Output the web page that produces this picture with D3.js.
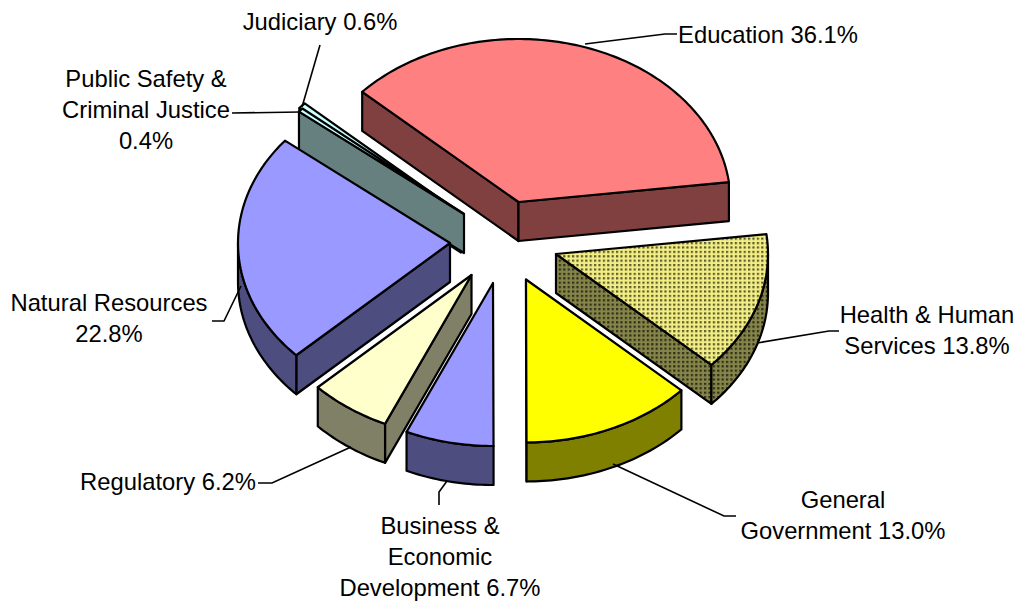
<!DOCTYPE html>
<html><head><meta charset="utf-8">
<script src="https://cdn.jsdelivr.net/npm/d3@7"></script>
<style>html,body{margin:0;background:#fff}svg{display:block}text{font-family:"Liberation Sans",Arial,sans-serif;font-size:23.8px;fill:#000}</style>
</head><body><svg id="c" width="1018" height="601"></svg>
<script>
const categories=["Education","Health & Human Services","General Government","Business & Economic Development","Regulatory","Natural Resources","Public Safety & Criminal Justice","Judiciary"];
const shares=[36.1,13.8,13.0,6.7,6.2,22.8,0.4,0.6];
const topColors=["#FF8080","url(#dotTop)","#FFFF00","#9999FF","#FFFFCC","#9999FF","#CCFFFF","#CCFFFF"];
const wallColors=["#804040","url(#dotWall)","#808000","#4D4D80","#808066","#4D4D80","#668080","#668080"];
// where each exploded slice's apex sits
const apexX=[518.5,556,526,493,471.5,450,464,461];
const apexY=[202,254,279.5,283,275,243,214,213.5];
const drawOrder=[7,6,0,5,1,2,4,3];
const labelLines=[
 {lines:["Education 36.1%"],x:768,y:43},
 {lines:["Health & Human","Services 13.8%"],x:927,y:323},
 {lines:["General","Government 13.0%"],x:843,y:508},
 {lines:["Business &","Economic","Development 6.7%"],x:440,y:534},
 {lines:["Regulatory 6.2%"],x:168,y:490},
 {lines:["Natural Resources","22.8%"],x:109,y:311},
 {lines:["Public Safety &","Criminal Justice","0.4%"],x:146,y:87},
 {lines:["Judiciary 0.6%"],x:320,y:30}
];
const leaders=[
 [[585,44],[665,34],[677,34]],
 [[757,343],[829,331],[839,331]],
 [[613,464],[724,516],[736,516]],
 [[447,481],[439,492],[439,505]],
 [[351,447],[272,483],[258,483]],
 [[241,286],[224,321],[212,321]],
 [[300,112],[232,113]],
 [[302,107],[320,45]]
];
const R=1,rx=212,ry=163,depth=39,TAU=2*Math.PI;
const sx=d3.scaleLinear().domain([-R,R]).range([-rx,rx]);
const sy=d3.scaleLinear().domain([-R,R]).range([-ry,ry]);
const startA=-47.5*Math.PI/180;
const pie=d3.pie().sort(null).startAngle(startA).endAngle(startA+TAU);
const arcs=pie(shares);
const svg=d3.select("#c");
const defs=svg.append("defs");
function dotted(id,bg,dot){
 const p=defs.append("pattern").attr("id",id).attr("patternUnits","userSpaceOnUse").attr("width",4.4).attr("height",4.4);
 p.append("rect").attr("width",4.4).attr("height",4.4).attr("fill",bg);
 p.append("rect").attr("x",0).attr("y",0).attr("width",2.2).attr("height",2.2).attr("fill",dot);
}
dotted("dotTop","#F2EE85","#5A5A2C");
dotted("dotWall","#85854A","#2E2E18");
const line=d3.line().x(d=>d[0]).y(d=>d[1]);
const rim=(a,ax,ay,dy=0)=>[ax+sx(Math.sin(a)),ay-sy(Math.cos(a))+dy];
function sweep(a0,a1){const n=Math.max(2,Math.ceil((a1-a0)/0.02));return d3.range(n+1).map(i=>a0+(a1-a0)*i/n);}
const stroke={stroke:"#000","stroke-width":2.2,"stroke-linejoin":"round"};
function face(pts,fill){
 const p=svg.append("path").attr("d",line(pts)+"Z").attr("fill",fill);
 Object.entries(stroke).forEach(([k,v])=>p.attr(k,v));
}
drawOrder.forEach(i=>{
 const d=arcs[i],ax=apexX[i],ay=apexY[i],a0=d.startAngle,a1=d.endAngle;
 const wall=wallColors[i];
 const quad=a=>{const r=rim(a,ax,ay);face([[ax,ay],r,[r[0],r[1]+depth],[ax,ay+depth]],wall);};
 if(Math.sin(a0)<-1e-3)quad(a0);
 if(Math.sin(a1)>1e-3)quad(a1);
 const lo=Math.max(a0,Math.PI/2),hi=Math.min(a1,1.5*Math.PI);
 if(hi>lo){
  const as=sweep(lo,hi);
  const upper=as.map(a=>rim(a,ax,ay)),lower=as.map(a=>rim(a,ax,ay,depth)).reverse();
  face(upper.concat(lower),wall);
 }
 const top=[[ax,ay]].concat(sweep(a0,a1).map(a=>rim(a,ax,ay)));
 face(top,topColors[i]);
});
const thin=d3.line();
leaders.forEach(l=>svg.append("path").attr("d",thin(l)).attr("fill","none").attr("stroke","#000").attr("stroke-width",1.6));
const lh=31;
labelLines.forEach((l,i)=>{
 const t=svg.append("text").attr("text-anchor","middle");
 l.lines.forEach((s,j)=>t.append("tspan").attr("x",l.x).attr("y",l.y+j*lh).text(s));
});
</script></body></html>
